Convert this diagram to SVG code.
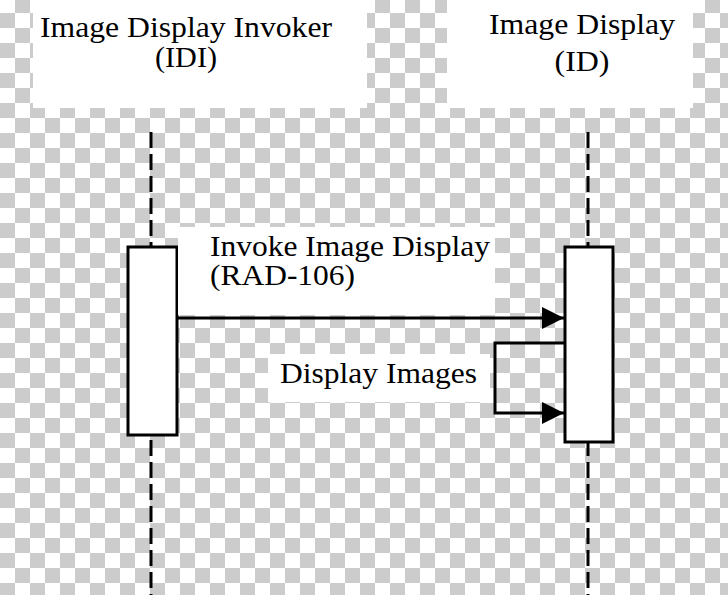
<svg xmlns="http://www.w3.org/2000/svg" width="728" height="595" viewBox="0 0 728 595">
<style>
text{font-family:"Liberation Serif","Times New Roman",serif;font-size:29px;fill:#000}
.life{stroke:#000;stroke-width:3;stroke-dasharray:16 6;fill:none}
.act{fill:#fff;stroke:#000;stroke-width:3}
.msg{stroke:#000;stroke-width:3;fill:none}
.bg{fill:#fff}
</style>
<defs>
<pattern id="checker" patternUnits="userSpaceOnUse" x="0" y="-2" width="30" height="30">
<rect width="30" height="30" fill="#fff"/>
<rect x="15" y="0" width="15" height="15" fill="#cccccc"/>
<rect x="0" y="15" width="15" height="15" fill="#cccccc"/>
</pattern>
<marker id="arrow" markerUnits="userSpaceOnUse" markerWidth="24" markerHeight="24" refX="22" refY="11" orient="auto">
<path d="M0,0 L22,11 L0,22 Z" fill="#000"/>
</marker>
</defs>
<rect width="728" height="595" fill="url(#checker)"/>
<g id="idi">
<rect class="bg" x="33" y="0" width="334" height="108"/>
<text x="186" y="37" text-anchor="middle" textLength="292" lengthAdjust="spacingAndGlyphs">Image Display Invoker</text>
<text x="186" y="67" text-anchor="middle" textLength="62" lengthAdjust="spacingAndGlyphs">(IDI)</text>
<line class="life" x1="151" y1="132" x2="151" y2="595"/>
<rect class="act" x="128" y="247" width="49" height="188"/>
</g>
<g id="id">
<rect class="bg" x="447" y="0" width="246" height="108"/>
<text x="582" y="34" text-anchor="middle" textLength="186" lengthAdjust="spacingAndGlyphs">Image Display</text>
<text x="582" y="71" text-anchor="middle" textLength="55" lengthAdjust="spacingAndGlyphs">(ID)</text>
<line class="life" x1="588" y1="132" x2="588" y2="595"/>
<rect class="act" x="565" y="247" width="48" height="195"/>
</g>
<g id="connectors">
<g id="msg-invoke">
<rect class="bg" x="178" y="227" width="317" height="88"/>
<text x="210" y="256" textLength="280" lengthAdjust="spacingAndGlyphs">Invoke Image Display</text>
<text x="210" y="285" textLength="145" lengthAdjust="spacingAndGlyphs">(RAD-106)</text>
<line class="msg" x1="177" y1="318" x2="564" y2="318" marker-end="url(#arrow)"/>
</g>
<g id="msg-display">
<rect class="bg" x="268" y="354" width="222" height="48"/>
<text x="280" y="383" textLength="197" lengthAdjust="spacingAndGlyphs">Display Images</text>
<polyline class="msg" points="564,343 495,343 495,413 564,413" marker-end="url(#arrow)"/>
</g>
</g>
</svg>
